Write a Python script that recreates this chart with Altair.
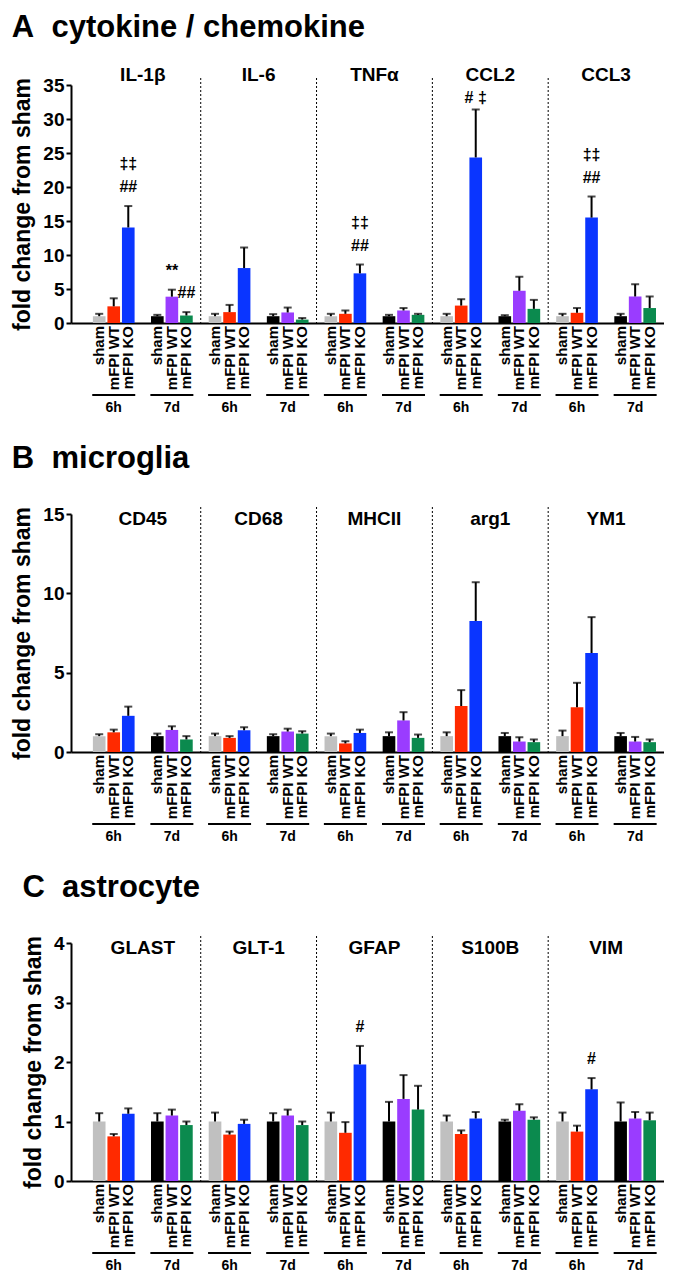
import altair as alt
import pandas as pd

FONT = "Liberation Sans"

# ---- bar slots (6h: sham / mFPI WT / mFPI KO, gap, 7d: sham / mFPI WT / mFPI KO)
slots = ["6h sham", "6h mFPI WT", "6h mFPI KO", "gap", "7d sham", "7d mFPI WT", "7d mFPI KO"]
bar_slots = ["6h sham", "6h mFPI WT", "6h mFPI KO", "7d sham", "7d mFPI WT", "7d mFPI KO"]
slot_labels = ["sham", "mFPI WT", "mFPI KO", "sham", "mFPI WT", "mFPI KO"]
slot_colors = ["#c0c0c0", "#ff2a00", "#0a35ff", "#000000", "#9a3cff", "#0b8a4e"]
times = ["6h", "7d"]
time_mid = ["6h mFPI WT", "7d mFPI WT"]

# ---- A: cytokine / chemokine
genes_a = ["IL-1β", "IL-6", "TNFα", "CCL2", "CCL3"]
il1b_mean = [1.0, 2.45, 14.05, 1.0, 3.87, 1.1]
il1b_sem = [0.35, 1.18, 3.15, 0.2, 1.03, 0.5]
il6_mean = [1.0, 1.6, 8.08, 1.0, 1.55, 0.5]
il6_sem = [0.35, 1.06, 3.02, 0.3, 0.72, 0.23]
tnfa_mean = [1.0, 1.35, 7.3, 1.0, 1.84, 1.2]
tnfa_sem = [0.35, 0.49, 1.3, 0.2, 0.36, 0.15]
ccl2_mean = [1.0, 2.56, 24.35, 1.0, 4.74, 2.08]
ccl2_sem = [0.35, 0.94, 7.05, 0.15, 2.06, 1.32]
ccl3_mean = [1.0, 1.5, 15.5, 1.0, 3.9, 2.2]
ccl3_sem = [0.35, 0.7, 3.1, 0.35, 1.8, 1.7]

# ---- B: microglia
genes_b = ["CD45", "CD68", "MHCII", "arg1", "YM1"]
cd45_mean = [1.0, 1.24, 2.28, 1.0, 1.39, 0.79]
cd45_sem = [0.12, 0.17, 0.58, 0.16, 0.23, 0.21]
cd68_mean = [1.0, 0.89, 1.37, 1.0, 1.29, 1.16]
cd68_sem = [0.16, 0.11, 0.19, 0.12, 0.18, 0.15]
mhcii_mean = [1.0, 0.54, 1.2, 1.0, 1.99, 0.89]
mhcii_sem = [0.16, 0.14, 0.21, 0.24, 0.52, 0.21]
arg1_mean = [1.0, 2.9, 8.26, 1.0, 0.66, 0.62]
arg1_sem = [0.24, 1.0, 2.44, 0.2, 0.27, 0.17]
ym1_mean = [1.0, 2.82, 6.24, 1.0, 0.66, 0.62]
ym1_sem = [0.35, 1.54, 2.26, 0.2, 0.29, 0.17]

# ---- C: astrocyte
genes_c = ["GLAST", "GLT-1", "GFAP", "S100B", "VIM"]
glast_mean = [1.0, 0.75, 1.13, 1.0, 1.1, 0.94]
glast_sem = [0.14, 0.04, 0.09, 0.14, 0.1, 0.06]
glt1_mean = [1.0, 0.78, 0.96, 1.0, 1.1, 0.94]
glt1_sem = [0.15, 0.05, 0.07, 0.14, 0.1, 0.06]
gfap_mean = [1.0, 0.81, 1.96, 1.0, 1.38, 1.2]
gfap_sem = [0.15, 0.18, 0.31, 0.33, 0.4, 0.4]
s100b_mean = [1.0, 0.79, 1.05, 1.0, 1.18, 1.03]
s100b_sem = [0.1, 0.06, 0.11, 0.03, 0.11, 0.04]
vim_mean = [1.0, 0.83, 1.54, 1.0, 1.05, 1.02]
vim_sem = [0.15, 0.1, 0.19, 0.32, 0.11, 0.13]

# ---- significance marks: gene, slot, text, stacking level
ann_a_gene = ["IL-1β", "IL-1β", "IL-1β", "IL-1β", "TNFα", "TNFα", "CCL2", "CCL3", "CCL3"]
ann_a_slot = ["6h mFPI KO", "6h mFPI KO", "7d mFPI WT", "7d mFPI KO", "6h mFPI KO",
              "6h mFPI KO", "6h mFPI KO", "6h mFPI KO", "6h mFPI KO"]
ann_a_text = ["##", "‡‡", "**", "##", "##", "‡‡", "# ‡", "##", "‡‡"]
ann_a_level = ["low", "high", "low", "low", "low", "high", "near", "low", "high"]
ann_c_gene = ["GFAP", "VIM"]
ann_c_slot = ["6h mFPI KO", "6h mFPI KO"]
ann_c_text = ["#", "#"]
ann_c_level = ["low", "low"]

# styling: vertical pixel offset of each annotation level above its error bar
LEVEL_DY = {"near": -11, "low": -19, "high": -42}

W = 593


def make_df(genes, means, sems):
    rows = []
    for g, m, s in zip(genes, means, sems):
        for slot, lab, mv, sv in zip(bar_slots, slot_labels, m, s):
            rows.append({"gene": g, "slot": slot, "label": lab, "mean": mv, "upper": mv + sv})
    return pd.DataFrame(rows)


def make_ann(df, genes, slots_, texts, levels):
    rows = []
    for g, s, t, lv in zip(genes, slots_, texts, levels):
        up = df[(df.gene == g) & (df.slot == s)]["upper"].iloc[0]
        rows.append({"gene": g, "slot": s, "text": t, "upper": up, "level": lv})
    return pd.DataFrame(rows)


def panel(title, genes, df, ann, ymax, yticks, gene_label_y, title_offset, H):
    xs = alt.X("gene:N", sort=genes,
               scale=alt.Scale(domain=genes, paddingInner=0, paddingOuter=0.06, align=1),
               axis=alt.Axis(labels=False, ticks=False, title=None, domainWidth=2,
                             domainColor="black"))
    xo = alt.XOffset("slot:N", scale=alt.Scale(domain=slots, paddingInner=0.13, paddingOuter=0.55))
    yscale = alt.Scale(domain=[0, ymax], nice=False)
    yaxis = alt.Axis(values=yticks, format="d", labelOverlap=False,
                     title="fold change from sham", grid=False,
                     domainWidth=2, domainColor="black", tickWidth=2, tickSize=5,
                     tickColor="black", labelFont=FONT, labelFontSize=19,
                     labelFontWeight="bold", labelColor="black", labelPadding=2,
                     titleFont=FONT, titleFontSize=23, titleFontWeight="bold",
                     titleColor="black", titlePadding=8)

    def Y(field):
        return alt.Y(field, type="quantitative", scale=yscale, axis=yaxis)

    base = alt.Chart(df)
    bars = base.mark_bar().encode(
        x=xs, xOffset=xo, y=Y("mean"),
        color=alt.Color("slot:N", scale=alt.Scale(domain=bar_slots, range=slot_colors),
                        legend=None),
    )
    err = base.mark_rule(color="black", strokeWidth=2).encode(
        x=xs, xOffset=xo, y=Y("mean"), y2="upper:Q")
    cap = base.mark_tick(color="black", thickness=2, size=8).encode(
        x=xs, xOffset=xo, y=Y("upper"))
    labels = base.mark_text(angle=270, align="right", baseline="middle", font=FONT,
                            fontSize=15, fontWeight="bold", color="black").encode(
        x=xs, xOffset=xo, y=alt.value(H + 3), text="label:N")

    tdf = pd.DataFrame([{"gene": g, "slot": s, "time": t}
                        for g in genes for s, t in zip(time_mid, times)])
    tbase = alt.Chart(tdf)
    uline = tbase.mark_bar(width=43, color="black").encode(
        x=xs, xOffset=xo, y=alt.value(H + 71), y2=alt.value(H + 73))
    ttext = tbase.mark_text(font=FONT, fontSize=14, fontWeight="bold", baseline="middle",
                            color="black").encode(
        x=xs, xOffset=xo, y=alt.value(H + 85), text="time:N")

    gdf = pd.DataFrame({"gene": genes})
    glab = alt.Chart(gdf).mark_text(font=FONT, fontSize=19, fontWeight="bold",
                                    baseline="middle", color="black").encode(
        x=xs, y=alt.value(gene_label_y), text="gene:N")
    sdf = pd.DataFrame({"gene": genes[1:]})
    sep = alt.Chart(sdf).mark_rule(color="black", strokeWidth=1, strokeDash=[2, 2]).encode(
        x=alt.X("gene:N", bandPosition=0), y=alt.value(-7), y2=alt.value(H))

    layers = [sep, bars, err, cap, labels, uline, ttext, glab]
    if ann is not None:
        for lv in ann["level"].unique():
            sub = ann[ann.level == lv]
            layers.append(alt.Chart(sub).mark_text(
                font=FONT, fontSize=16, fontWeight="bold", baseline="middle",
                color="black", dy=LEVEL_DY[lv]).encode(
                x=xs, xOffset=xo, y=Y("upper"), text="text:N"))

    return alt.layer(*layers).properties(
        width=W, height=H,
        title=alt.TitleParams(title, anchor="start", font=FONT, fontSize=31,
                              fontWeight="bold", color="black", offset=title_offset),
    )


df_a = make_df(genes_a, [il1b_mean, il6_mean, tnfa_mean, ccl2_mean, ccl3_mean],
               [il1b_sem, il6_sem, tnfa_sem, ccl2_sem, ccl3_sem])
df_b = make_df(genes_b, [cd45_mean, cd68_mean, mhcii_mean, arg1_mean, ym1_mean],
               [cd45_sem, cd68_sem, mhcii_sem, arg1_sem, ym1_sem])
df_c = make_df(genes_c, [glast_mean, glt1_mean, gfap_mean, s100b_mean, vim_mean],
               [glast_sem, glt1_sem, gfap_sem, s100b_sem, vim_sem])
ann_a = make_ann(df_a, ann_a_gene, ann_a_slot, ann_a_text, ann_a_level)
ann_c = make_ann(df_c, ann_c_gene, ann_c_slot, ann_c_text, ann_c_level)

sp = "\u00a0"
pa = panel("A" + sp * 2 + "cytokine / chemokine", genes_a, df_a, ann_a, 35,
           [0, 5, 10, 15, 20, 25, 30, 35], -10, 22, 238)
pb = panel("B" + sp * 2 + "microglia", genes_b, df_b, None, 15, [0, 5, 10, 15], 5, 30, 238)
pc = panel("C" + sp * 2 + "astrocyte", genes_c, df_c, ann_c, 4, [0, 1, 2, 3, 4], 5, 30, 238)

chart = alt.vconcat(pa, pb, pc, spacing=28).properties(
    padding={"left": 3, "top": 4, "right": 0, "bottom": 0},
    background="white",
).configure_view(stroke="transparent", strokeWidth=0)

chart.save("out.html", embed_options={"renderer": "svg", "actions": False})
